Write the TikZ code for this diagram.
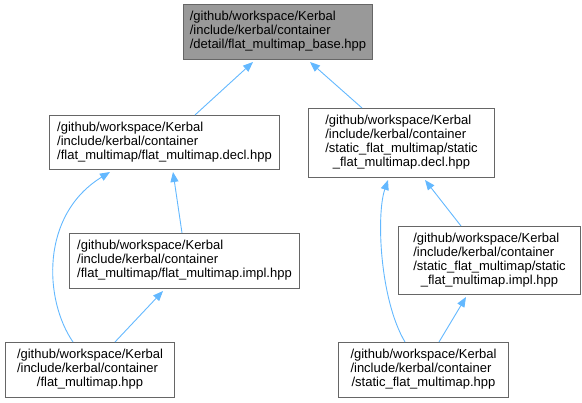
\documentclass[tikz,border=0pt]{standalone}
\usepackage{fontspec}
\setmainfont{Liberation Sans}
\usetikzlibrary{arrows.meta,calc}
\definecolor{edgeblue}{HTML}{63B8FF}
\definecolor{boxline}{HTML}{666666}
\definecolor{boxgray}{HTML}{999999}
\newcommand{\dlbl}[2]{\begin{tabular}{@{}l@{}}#1\\\multicolumn{1}{@{}c@{}}{#2}\end{tabular}}
\begin{document}
\begin{tikzpicture}[x=1pt,y=-1pt,
  filebox/.style={rectangle, draw=boxline, line width=1pt, fill=white, inner sep=0pt, anchor=north west,
    font=\fontsize{13}{14}\selectfont},
  rootbox/.style={filebox, fill=boxgray},
  edge/.style={draw=edgeblue, line width=0.9pt, -{Triangle[length=10pt,width=8pt]}}]
\path[use as bounding box] (0,0) rectangle (582,403);

\node[rootbox, minimum width=189pt, minimum height=55pt] (A) at (183,4)
  {\dlbl{/github/workspace/Kerbal\\/include/kerbal/container}{/detail/flat\_multimap\_base.hpp}};
\node[filebox, minimum width=230pt, minimum height=54pt] (B) at (49,115)
  {\dlbl{/github/workspace/Kerbal\\/include/kerbal/container}{/flat\_multimap/flat\_multimap.decl.hpp}};
\node[filebox, minimum width=186pt, minimum height=69pt] (C) at (308,108)
  {\dlbl{/github/workspace/Kerbal\\/include/kerbal/container\\/static\_flat\_multimap/static}{\_flat\_multimap.decl.hpp}};
\node[filebox, minimum width=230pt, minimum height=55pt] (D) at (69,233)
  {\dlbl{/github/workspace/Kerbal\\/include/kerbal/container}{/flat\_multimap/flat\_multimap.impl.hpp}};
\node[filebox, minimum width=182pt, minimum height=68pt] (E) at (398,226)
  {\dlbl{/github/workspace/Kerbal\\/include/kerbal/container\\/static\_flat\_multimap/static}{\_flat\_multimap.impl.hpp}};
\node[filebox, minimum width=169pt, minimum height=55pt] (F) at (5,342)
  {\dlbl{/github/workspace/Kerbal\\/include/kerbal/container}{/flat\_multimap.hpp}};
\node[filebox, minimum width=170pt, minimum height=55pt] (G) at (338,342)
  {\dlbl{/github/workspace/Kerbal\\/include/kerbal/container}{/static\_flat\_multimap.hpp}};

\draw[edge] ($(B.north west)+(146,0)$) -- ($(A.south west)+(70,2)$);
\draw[edge] ($(C.north west)+(54,0)$) -- ($(A.south west)+(127,2)$);
\draw[edge] ($(D.north west)+(113,0)$) -- ($(B.south west)+(124,2)$);
\draw[edge] ($(F.north west)+(68,0)$) .. controls (44,300) and (40,215) .. ($(B.south west)+(61,2)$);
\draw[edge] ($(F.north west)+(110,0)$) -- ($(D.south west)+(94,2)$);
\draw[edge] ($(E.north west)+(63,0)$) -- ($(C.south west)+(117,2)$);
\draw[edge] ($(G.north west)+(67,0)$) .. controls (380,300) and (376,215) .. ($(C.south west)+(80,2)$);
\draw[edge] ($(G.north west)+(101,0)$) -- ($(E.south west)+(68,2)$);
\end{tikzpicture}
\end{document}
